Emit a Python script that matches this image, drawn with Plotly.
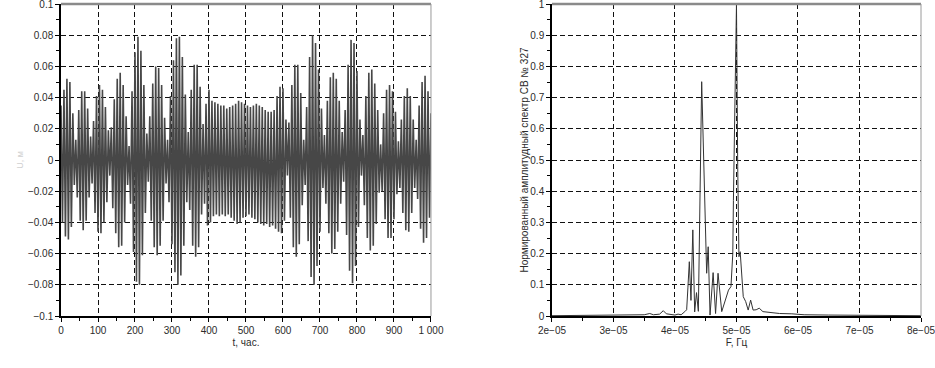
import plotly.graph_objects as go

# ---------------- Left panel: time series (extremes every 4 h) ----------------
t_step_hours = 4
signal_u = [
    0.035, -0.040, 0.045, -0.049, 0.052, -0.051, 0.050, -0.043, 0.030, -0.016,
    0.013, -0.024, 0.032, -0.039, 0.044, -0.045, 0.044, -0.039, 0.033, -0.024,
    0.015, -0.015, 0.025, -0.034, 0.041, -0.046, 0.048, -0.047, 0.045, -0.040,
    0.034, -0.027, 0.019, -0.010, 0.021, -0.031, 0.039, -0.047, 0.052, -0.056,
    0.056, -0.055, 0.048, -0.040, 0.028, -0.016, 0.009, -0.028, 0.044, -0.059,
    0.069, -0.078, 0.079, -0.080, 0.070, -0.061, 0.048, -0.034, 0.017, -0.014,
    0.028, -0.039, 0.049, -0.056, 0.060, -0.061, 0.059, -0.055, 0.048, -0.039,
    0.027, -0.015, 0.013, -0.027, 0.041, -0.054, 0.064, -0.072, 0.078, -0.080,
    0.079, -0.074, 0.066, -0.055, 0.042, -0.027, 0.018, -0.032, 0.045, -0.055,
    0.061, -0.062, 0.061, -0.056, 0.047, -0.035, 0.023, -0.028, 0.036, -0.042,
    0.045, -0.040, 0.038, -0.036, 0.037, -0.035, 0.036, -0.036, 0.035, -0.035,
    0.035, -0.036, 0.033, -0.035, 0.034, -0.037, 0.035, -0.039, 0.036, -0.041,
    0.038, -0.040, 0.037, -0.037, 0.036, -0.036, 0.035, -0.035, 0.034, -0.037,
    0.035, -0.038, 0.036, -0.040, 0.035, -0.041, 0.034, -0.042, 0.032, -0.041,
    0.031, -0.043, 0.031, -0.042, 0.032, -0.044, 0.041, -0.046, 0.047, -0.047,
    0.046, -0.039, 0.026, -0.010, 0.024, -0.037, 0.048, -0.056, 0.061, -0.062,
    0.061, -0.054, 0.043, -0.029, 0.013, -0.016, 0.034, -0.052, 0.066, -0.075,
    0.080, -0.080, 0.075, -0.068, 0.058, -0.046, 0.033, -0.018, 0.016, -0.028,
    0.038, -0.047, 0.053, -0.060, 0.056, -0.057, 0.052, -0.046, 0.038, -0.028,
    0.018, -0.014, 0.032, -0.048, 0.061, -0.071, 0.077, -0.079, 0.075, -0.068,
    0.057, -0.043, 0.026, -0.010, 0.016, -0.029, 0.041, -0.050, 0.056, -0.058,
    0.058, -0.055, 0.049, -0.041, 0.032, -0.021, 0.010, -0.020, 0.030, -0.038,
    0.045, -0.050, 0.048, -0.050, 0.044, -0.038, 0.031, -0.022, 0.012, -0.018,
    0.026, -0.034, 0.041, -0.045, 0.046, -0.046, 0.041, -0.034, 0.026, -0.018,
    0.013, -0.025, 0.035, -0.044, 0.050, -0.053, 0.054, -0.050, 0.044, -0.037,
    0.030,
]
t_hours = [i * t_step_hours for i in range(len(signal_u))]

left_xticks = [0, 100, 200, 300, 400, 500, 600, 700, 800, 900, 1000]
left_xticklabels = ["0", "100", "200", "300", "400", "500", "600", "700", "800", "900", "1 000"]
left_yticks = [0.1, 0.08, 0.06, 0.04, 0.02, 0, -0.02, -0.04, -0.06, -0.08, -0.1]
left_yticklabels = ["0.1", "0.08", "0.06", "0.04", "0.02", "0", "\u22120.02", "\u22120.04",
                    "\u22120.06", "\u22120.08", "\u22120.1"]

# ---------------- Right panel: normalised amplitude spectrum ----------------
freq_e5 = [2.0, 2.5, 3.0, 3.3, 3.5, 3.59, 3.65, 3.75, 3.81, 3.86, 3.95, 4.0, 4.05, 4.1,
           4.16, 4.19, 4.21, 4.233, 4.26, 4.29, 4.32, 4.35, 4.38, 4.434, 4.515, 4.54,
           4.57, 4.62, 4.66, 4.70, 4.76, 4.81, 4.87, 4.91, 4.94, 4.95, 4.98, 5.0, 5.02,
           5.04, 5.06, 5.08, 5.11, 5.15, 5.19, 5.23, 5.27, 5.32, 5.37, 5.43, 5.54, 5.7,
           5.9, 6.1, 6.5, 7.0, 7.5, 8.0]
spectrum = [0.001, 0.002, 0.002, 0.003, 0.004, 0.008, 0.004, 0.006, 0.017, 0.007, 0.005,
            0.003, 0.006, 0.004, 0.014, 0.02, 0.09, 0.174, 0.05, 0.276, 0.013, 0.075,
            0.015, 0.751, 0.137, 0.222, 0.003, 0.139, 0.008, 0.137, 0.014, 0.046, 0.083,
            0.094, 0.20, 0.37, 0.69, 1.0, 0.48, 0.19, 0.206, 0.137, 0.062, 0.046, 0.019,
            0.051, 0.019, 0.02, 0.025, 0.014, 0.011, 0.008, 0.007, 0.004, 0.003, 0.002,
            0.002, 0.001]
freq_hz = [f * 1e-5 for f in freq_e5]

right_xticks_e5 = [2, 3, 4, 5, 6, 7, 8]
right_xticklabels = ["2e\u221205", "3e\u221205", "4e\u221205", "5e\u221205", "6e\u221205",
                     "7e\u221205", "8e\u221205"]
right_yticks = [0, 0.1, 0.2, 0.3, 0.4, 0.5, 0.6, 0.7, 0.8, 0.9, 1]
right_yticklabels = ["0", "0.1", "0.2", "0.3", "0.4", "0.5", "0.6", "0.7", "0.8", "0.9", "1"]

# ---------------- Figure ----------------
FONT = "Liberation Sans, Arial, sans-serif"
TXT = "#2b2b2b"
fig = go.Figure()
fig.add_trace(go.Scatter(x=t_hours, y=signal_u, mode="lines",
                         line=dict(color="#474747", width=1.6), xaxis="x", yaxis="y",
                         showlegend=False, hoverinfo="skip"))
fig.add_trace(go.Scatter(x=freq_hz, y=spectrum, mode="lines",
                         line=dict(color="#333333", width=1), xaxis="x2", yaxis="y2",
                         showlegend=False, hoverinfo="skip"))

grid = dict(showgrid=True, gridcolor="#111", gridwidth=1, griddash="5px,3px",
            zeroline=False, showline=True, linecolor="#000", linewidth=1.5,
            ticks="outside", ticklen=4, tickcolor="#000", tickwidth=1, automargin=False,
            ticklabeloverflow="allow",
            tickfont=dict(family=FONT, size=10, color=TXT))

fig.update_layout(
    width=935, height=368,
    margin=dict(l=61, r=14, t=4, b=52),
    paper_bgcolor="white", plot_bgcolor="white",
    font=dict(family=FONT, size=10, color=TXT),
    xaxis=dict(domain=[0, 0.4302], range=[0, 1000], tickvals=left_xticks,
               ticktext=left_xticklabels, anchor="y",
               minor=dict(dtick=50, ticks="outside", ticklen=3, tickcolor="#000", showgrid=False),
               title=dict(text="t, час.", font=dict(family=FONT, size=10, color=TXT), standoff=4),
               **grid),
    yaxis=dict(domain=[0, 1], range=[-0.1, 0.1], tickvals=left_yticks,
               ticktext=left_yticklabels, anchor="x",
               minor=dict(dtick=0.01, ticks="outside", ticklen=3, tickcolor="#000", showgrid=False),
               title=dict(text="U, м", font=dict(family=FONT, size=9, color="#d0d0d0"), standoff=3),
               **grid),
    xaxis2=dict(domain=[0.5709, 1], range=[2e-5, 8e-5], tickvals=[v * 1e-5 for v in right_xticks_e5],
                ticktext=right_xticklabels, anchor="y2",
                minor=dict(dtick=0.5e-5, ticks="outside", ticklen=3, tickcolor="#000", showgrid=False),
                title=dict(text="F, Гц", font=dict(family=FONT, size=10, color=TXT), standoff=4),
                **grid),
    yaxis2=dict(domain=[0, 1], range=[0, 1], tickvals=right_yticks,
                ticktext=right_yticklabels, anchor="x2",
                minor=dict(dtick=0.05, ticks="outside", ticklen=3, tickcolor="#000", showgrid=False),
                title=dict(text="Нормированный амплитудный спектр СВ № 327",
                           font=dict(family=FONT, size=10, color=TXT), standoff=0),
                **grid),
)

# grey top / right frame lines
for xr, yr in (("x domain", "y domain"), ("x2 domain", "y2 domain")):
    fig.add_shape(type="line", xref=xr, yref=yr, x0=0, x1=1, y0=1, y1=1,
                  line=dict(color="#8a8a8a", width=2.5))
    fig.add_shape(type="line", xref=xr, yref=yr, x0=1, x1=1, y0=0, y1=1,
                  line=dict(color="#9a9a9a", width=1))

fig.write_html("out.html", config={"displayModeBar": False},
               post_script="document.body.style.margin='0';document.body.style.overflow='hidden';")
